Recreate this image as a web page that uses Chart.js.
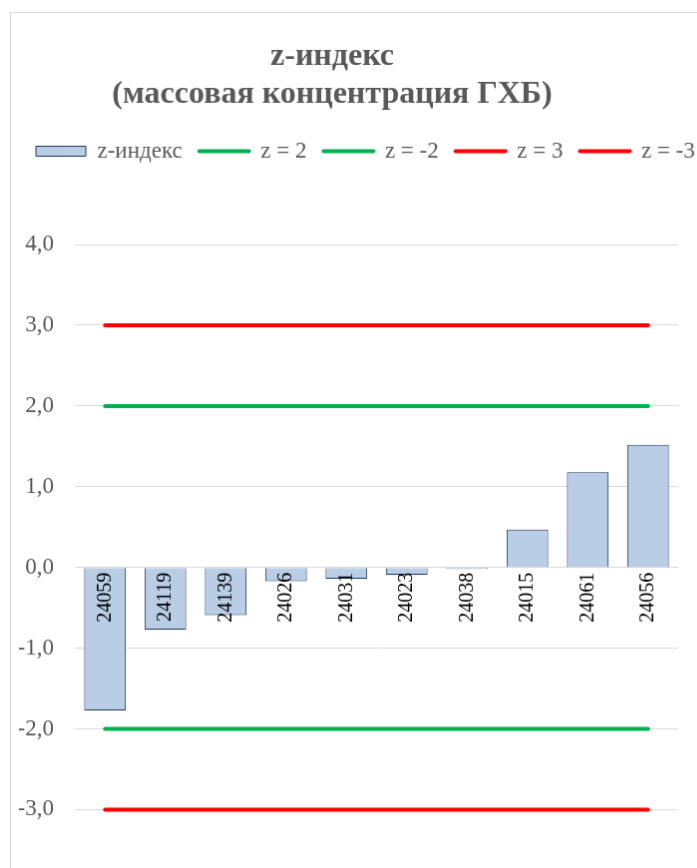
<!DOCTYPE html>
<html>
<head>
<meta charset="utf-8">
<script src="https://cdn.jsdelivr.net/npm/chart.js@4/dist/chart.umd.min.js"></script>
<style>
html,body{margin:0;padding:0;background:#fff;}
#wrap{position:relative;width:697px;height:868px;overflow:hidden;}
#c{position:absolute;left:10px;top:12px;border:1px solid #d9d9d9;}
</style>
</head>
<body>
<div id="wrap"><canvas id="c" width="760" height="870"></canvas></div>
<script>
// lab codes and their z-scores
const codes = ["24059","24119","24139","24026","24031","24023","24038","24015","24061","24056"];
const zIndex = [-1.77, -0.77, -0.59, -0.17, -0.14, -0.09, -0.02, 0.47, 1.18, 1.52];
const zPlus2 = [2, 2, 2, 2, 2, 2, 2, 2, 2, 2];
const zMinus2 = [-2, -2, -2, -2, -2, -2, -2, -2, -2, -2];
const zPlus3 = [3, 3, 3, 3, 3, 3, 3, 3, 3, 3];
const zMinus3 = [-3, -3, -3, -3, -3, -3, -3, -3, -3, -3];

const serif = "'Liberation Serif','Times New Roman',serif";
const grey = "#595959";
const TITLE_X = 322;

// excel title sits left of centre, move it
const titleShift = {
  id: "titleShift",
  afterLayout(chart){ let t = chart.titleBlock; t.right = 2*TITLE_X - t.left; }
};

function lineSet(label, data, color){
  return {type:"line", label:label, data:data, borderColor:color, backgroundColor:color,
    borderWidth:4, borderCapStyle:"round", pointRadius:0, fill:false};
}

new Chart(document.getElementById("c"), {
  type: "bar",
  data: {
    labels: codes,
    datasets: [
      {label:"z-индекс", data:zIndex, backgroundColor:"#b9cde5", borderColor:"#1f3864", borderWidth:1,
        categoryPercentage:1, barPercentage:0.69},
      lineSet("z = 2", zPlus2, "#00b050"),
      lineSet("z = -2", zMinus2, "#00b050"),
      lineSet("z = 3", zPlus3, "#ff0000"),
      lineSet("z = -3", zMinus3, "#ff0000")
    ]
  },
  options: {
    responsive: false,
    animation: false,
    layout: {padding: {left:8, right:0, top:0, bottom:0}},
    plugins: {
      tooltip: {enabled:false},
      title: {
        display: true,
        text: ["z-индекс", "(массовая концентрация ГХБ)"],
        color: grey,
        font: {family: serif, size: 32, weight: "bold", lineHeight: 1.1875},
        padding: {top: 25, bottom: 9}
      },
      legend: {
        align: "start",
        labels: {
          color: grey,
          font: {family: serif, size: 23},
          usePointStyle: true,
          pointStyleWidth: 50,
          boxHeight: 10,
          padding: 17,
          generateLabels: chart => chart.data.datasets.map((ds, i) => ({
            text: ds.label,
            fillStyle: ds.backgroundColor,
            strokeStyle: ds.borderColor,
            lineWidth: ds.type == "line" ? 4 : 1,
            lineCap: ds.type == "line" ? "round" : "butt",
            pointStyle: ds.type == "line" ? "line" : "rect",
            fontColor: grey,
            hidden: false,
            datasetIndex: i
          }))
        }
      }
    },
    scales: {
      x: {
        position: {y: 0},
        grid: {display:false, drawTicks:false},
        border: {display:false},
        ticks: {z:1, color:"#000", font:{family:serif, size:20}, minRotation:90, maxRotation:90, autoSkip:false, padding:5}
      },
      y: {
        min: -3.455, max: 4.891,
        afterFit: s => { s.width = 56; },
        grid: {color:"#d9d9d9", drawTicks:false},
        border: {display:false},
        ticks: {stepSize:1, includeBounds:false, color:grey, font:{family:serif, size:23}, padding:21,
          callback: v => v.toFixed(1).replace(".", ",")}
      },
      spacer: {
        position: "right",
        afterFit: s => { s.width = 91; },
        grid: {display:false},
        border: {display:false},
        ticks: {display:false}
      }
    }
  },
  plugins: [titleShift]
});
</script>
</body>
</html>
